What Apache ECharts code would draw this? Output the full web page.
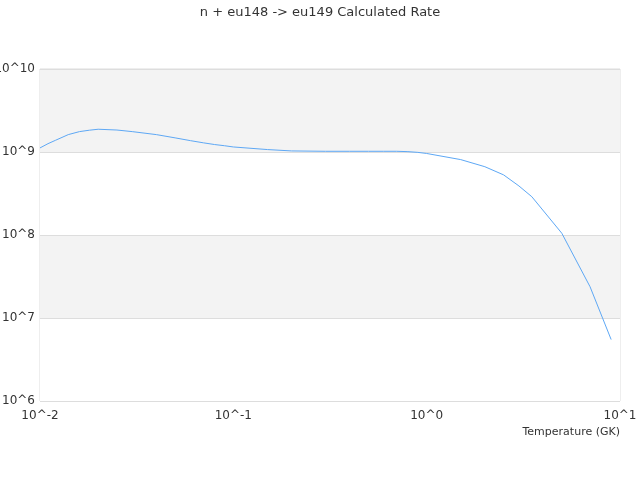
<!DOCTYPE html>
<html>
<head>
<meta charset="utf-8">
<script src="https://cdn.jsdelivr.net/npm/echarts@6/dist/echarts.min.js"></script>
<style>
  html, body { margin: 0; padding: 0; background: #fff; }
  #chart { width: 640px; height: 480px; }
</style>
</head>
<body>
<div id="chart"></div>
<script>
// 温度 (GK) 与对应速率
const temperatures = [0.01, 0.011, 0.012, 0.014, 0.016, 0.018, 0.02, 0.025, 0.03, 0.04,
  0.05, 0.06, 0.07, 0.08, 0.09, 0.1, 0.15, 0.2, 0.3, 0.4,
  0.5, 0.6, 0.7, 0.8, 0.9, 1, 1.5, 2, 2.5, 3,
  3.5, 5, 7, 9];
const rates = [1.12e9, 1.26e9, 1.38e9, 1.62e9, 1.76e9, 1.83e9, 1.88e9, 1.84e9, 1.76e9, 1.62e9,
  1.48e9, 1.37e9, 1.29e9, 1.23e9, 1.19e9, 1.15e9, 1.07e9, 1.03e9, 1.02e9, 1.02e9,
  1.02e9, 1.02e9, 1.02e9, 1.01e9, 0.99e9, 0.96e9, 8.1e8, 6.65e8, 5.3e8, 3.9e8,
  2.89e8, 1.05e8, 2.38e7, 5.5e6];

const titleText = 'n + eu148 -> eu149 Calculated Rate';
const xName = 'Temperature (GK)';

const chart = echarts.init(document.getElementById('chart'));

// 幂次标签
const powLabel = (v) => '10^' + Math.round(Math.log10(v));

const option = {
  animation: false,
  title: {
    text: titleText,
    left: 'center',
    top: 1,
    textStyle: { color: '#333', fontSize: 13, fontWeight: 'normal', fontFamily: 'DejaVu Sans' }
  },
  grid: {
    left: 40,
    right: 20,
    top: 69,
    bottom: 79,
    containLabel: false,
    outerBoundsMode: 'none',
    show: true,
    borderColor: '#dddddd',
    borderWidth: 1
  },
  xAxis: {
    type: 'log',
    min: 0.01,
    max: 10,
    name: xName,
    nameLocation: 'end',
    nameGap: 0,
    nameTextStyle: {
      color: '#333',
      fontSize: 11,
      fontFamily: 'DejaVu Sans',
      align: 'right',
      verticalAlign: 'top',
      padding: [26, 0, 0, 0]
    },
    axisLine: { show: false },
    axisTick: { show: false },
    splitLine: { show: false },
    axisLabel: {
      formatter: powLabel,
      color: '#333',
      fontSize: 12,
      fontFamily: 'DejaVu Sans',
      margin: 9
    }
  },
  yAxis: {
    type: 'log',
    min: 1e6,
    max: 1e10,
    axisLine: { show: false },
    axisTick: { show: false },
    splitLine: { show: true, lineStyle: { color: '#dddddd' } },
    splitArea: { show: true, areaStyle: { color: ['#f3f3f3', '#ffffff'] } },
    axisLabel: {
      formatter: powLabel,
      color: '#333',
      fontSize: 12,
      fontFamily: 'DejaVu Sans',
      margin: 5
    }
  },
  series: [{
    type: 'line',
    data: temperatures.map((t, i) => [t, rates[i]]),
    showSymbol: false,
    lineStyle: { color: '#5ea8f5', width: 1 },
    itemStyle: { color: '#5ea8f5' }
  }]
};

chart.setOption(option);
</script>
</body>
</html>
